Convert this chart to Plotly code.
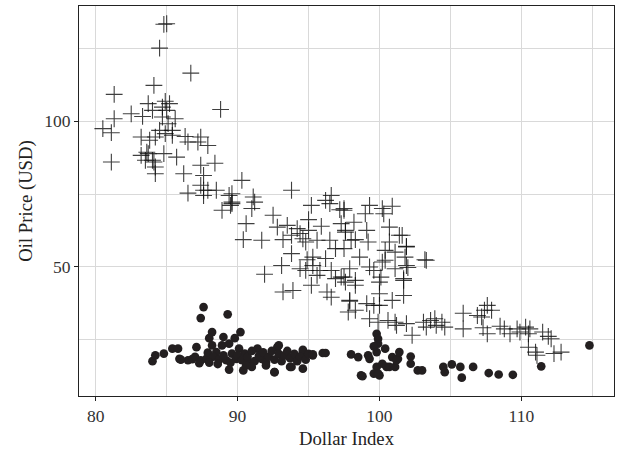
import plotly.graph_objects as go

# Crosses: oil price vs dollar index (series 1)
cross_x = [84.8,85.0,84.5,86.7,84.1,81.3,88.8,81.3,82.5,80.5,81.1,83.7,83.3,84.0,84.9,85.2,84.7,85.0,85.6,84.7,85.1,85.4,84.5,84.2,83.2,83.8,86.3,87.4,87.2,87.9,84.9,85.4,
           81.1,83.6,84.8,85.7,86.2,87.4,87.6,88.4,86.5,84.1,84.2,84.2,83.5,83.2,83.7,84.0,
           90.3,86.5,87.4,87.6,87.9,88.5,87.6,88.9,89.6,89.4,89.5,91.1,91.2,91.0,90.6,92.5,93.8,95.2,89.6,89.6,
           90.4,91.7,92.8,93.5,93.2,93.8,94.2,94.4,94.6,94.8,95.0,95.0,95.6,95.9,96.2,96.6,96.5,97.2,97.5,97.3,97.6,98.0,96.5,96.9,97.5,93.8,93.1,91.9,94.4,94.8,95.3,94.9,95.3,96.2,95.8,96.6,96.9,97.3,95.6,95.2,93.2,93.9,96.3,96.6,97.9,97.6,
           97.5,99.3,100.2,100.9,99.0,100.3,98.2,97.6,100.7,99.1,101.6,98.3,99.2,100.7,101.9,100.4,101.1,101.8,98.6,103.2,103.3,100.2,100.4,99.3,99.6,101.1,102.0,97.9,97.5,98.3,100.1,100.0,101.7,98.3,100.0,101.7,100.9,97.9,99.1,99.6,100.0,
           98.3,97.8,99.3,99.9,100.6,101.1,101.2,101.9,102.3,103.1,103.6,103.3,103.9,104.4,104.6,104.0,105.9,105.9,106.9,107.2,107.4,107.9,107.6,107.3,107.6,108.5,108.8,109.2,109.7,109.9,110.3,110.6,110.5,111.5,111.9,112.1,110.5,111.0,111.1,112.3,112.8,101.9,101.4,101.9,101.7]
cross_y = [133.4,133.6,125.2,116.6,112.4,109.3,104.1,100.9,102.6,97.5,96.1,106.1,101.7,103.8,106.9,106.1,104.9,103.8,100.9,101.5,99.2,96.9,96.9,94.6,94.6,93.5,94.8,94.6,92.9,91.7,95.8,95.2,
           86.0,89.4,88.9,87.7,82.0,84.9,81.4,85.6,92.9,86.0,84.3,82.0,86.6,88.3,88.9,86.6,
           79.7,75.3,78.0,76.3,76.3,76.3,74.5,69.4,72.2,74.5,71.1,74.0,72.2,70.0,64.8,67.7,76.3,71.1,75.1,71.7,
           59.3,59.1,63.6,64.2,59.3,60.8,63.1,61.4,59.6,58.5,66.2,62.5,59.1,63.9,72.8,74.5,71.7,69.6,69.4,64.8,61.9,59.1,59.1,56.2,56.2,54.5,50.4,47.4,49.3,48.7,50.4,52.4,53.3,52.8,48.7,48.7,45.9,46.4,47.0,43.6,41.3,41.8,41.3,39.5,38.4,44.7,
           70.0,71.1,70.0,70.8,68.2,68.2,65.3,62.5,63.6,62.5,60.8,59.3,58.5,58.5,57.0,55.6,55.0,53.3,53.3,52.4,52.2,51.6,52.2,49.9,48.7,49.3,49.7,49.3,46.4,45.3,46.4,44.7,45.9,43.6,40.7,40.1,38.4,38.1,37.3,36.7,36.7,
           35.0,34.4,32.1,30.9,31.5,30.9,29.8,30.4,26.4,30.9,31.5,29.2,32.1,30.9,29.2,29.8,34.0,28.6,33.2,32.7,35.0,35.0,36.7,29.0,26.9,29.5,28.6,26.9,28.6,27.5,29.2,28.6,26.9,27.5,26.0,25.2,22.3,20.6,19.5,20.1,20.6,56.8,60.8,50.4,45.3]

# Circles: series 2
dot_x = [84.0,84.2,84.8,85.4,85.8,85.9,87.6,87.4,89.3,88.2,88.0,90.2,89.8,89.0,87.1,89.4,90.4,92.6,93.7,94.6,95.3,91.4,92.8,86.5,87.4,87.8,88.2,88.5,88.9,89.4,89.2,89.6,90.1,89.9,90.5,90.8,91.7,94.6,96.0,94.6,93.8,
         86.0,86.8,87.0,87.9,88.3,88.7,89.0,89.5,90.0,90.3,90.7,91.0,91.2,91.5,91.8,92.0,92.2,92.4,92.6,92.9,93.1,93.3,93.5,93.7,94.0,94.2,94.4,94.8,95.0,92.0,91.0,90.6,88.0,88.6,87.3,
         98.0,98.5,98.7,98.8,99.2,99.3,99.8,99.9,99.9,99.6,100.4,99.8,99.8,99.6,100.0,99.9,100.5,100.9,101.1,101.3,101.4,102.2,102.2,102.7,103.0,104.5,104.6,105.1,105.7,105.8,106.6,107.7,108.4,109.4,111.4,114.8,100.2,100.7,101.2,96.2,95.3,92.9,92.6]
dot_y = [17.5,19.5,20.1,21.8,21.8,18.3,36.1,32.3,33.6,27.5,25.4,27.5,25.4,25.8,22.3,14.6,14.3,13.7,15.5,14.9,19.5,21.8,22.3,17.8,17.8,18.3,22.9,20.6,22.9,23.5,17.8,20.1,21.8,18.3,20.1,17.2,18.3,20.6,20.3,21.4,15.5,
         18.0,18.2,19.0,20.4,19.0,18.0,19.5,17.0,19.5,17.8,19.0,21.0,17.5,19.3,20.5,17.0,19.0,21.0,18.0,20.0,17.5,19.5,21.0,18.5,20.0,17.5,19.0,18.0,20.0,16.0,15.5,16.0,17.0,16.5,16.8,
         19.8,18.9,12.6,12.3,19.5,18.3,26.9,25.2,23.5,22.6,21.8,20.6,15.5,13.2,12.6,13.2,15.5,18.9,15.5,18.3,20.6,19.1,16.6,14.3,14.3,15.5,13.7,16.4,15.5,11.8,15.5,13.4,12.9,12.8,15.7,22.9,16.6,15.5,17.8,20.3,19.8,22.9,13.7]

x_range = [78.82, 116.53]
y_range = [5.5, 139.7]

fig = go.Figure()
fig.add_trace(go.Scatter(x=cross_x, y=cross_y, mode="markers", showlegend=False,
                         marker=dict(symbol="cross-thin-open", size=12,
                                     color="rgba(15,15,15,0.8)",
                                     line=dict(width=1.1, color="rgba(15,15,15,0.8)"))))
fig.add_trace(go.Scatter(x=dot_x, y=dot_y, mode="markers", showlegend=False,
                         marker=dict(symbol="circle", size=8.7, color="#231f20",
                                     line=dict(width=0))))

font = "Liberation Serif"
axis_common = dict(showline=True, linecolor="#222", linewidth=1.2, mirror=True,
                   ticks="outside", ticklen=4, tickcolor="#222", tickwidth=1,
                   showgrid=True, gridcolor="#d9d9d9", gridwidth=1, zeroline=False,
                   tickfont=dict(family=font, size=17.5, color="#333"))
fig.update_layout(
    width=623, height=454,
    margin=dict(l=79, r=9, t=6, b=58),
    paper_bgcolor="white", plot_bgcolor="white",
    font=dict(family=font, size=18, color="#222"),
    xaxis=dict(range=x_range, tick0=0, dtick=10,
               minor=dict(dtick=5, tick0=0, showgrid=True, gridcolor="#d9d9d9", gridwidth=1, ticks=""),
               title=dict(text="Dollar Index", font=dict(family=font, size=18.7), standoff=6),
               **axis_common),
    yaxis=dict(range=y_range, tick0=0, dtick=50,
               minor=dict(dtick=25, tick0=0, showgrid=True, gridcolor="#d9d9d9", gridwidth=1, ticks=""),
               title=dict(text="Oil Price (USD)", font=dict(family=font, size=18.7), standoff=6),
               **axis_common),
)
fig.write_html("out.html")
